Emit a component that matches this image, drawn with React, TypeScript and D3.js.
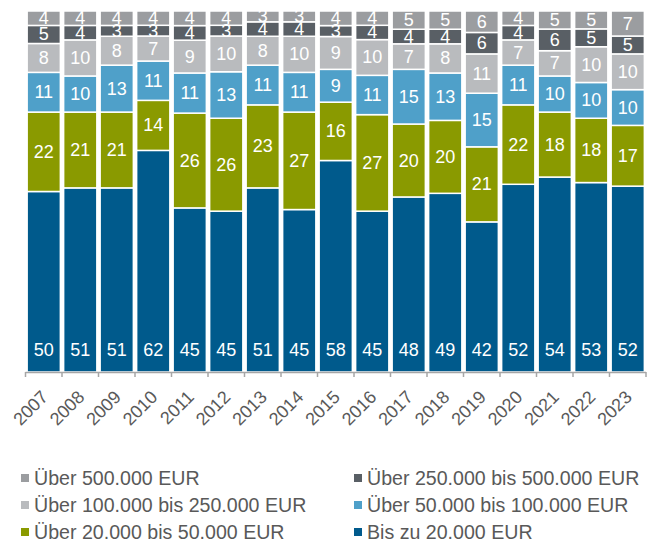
import React from 'react'
import * as d3 from 'd3'

const years = ['2007', '2008', '2009', '2010', '2011', '2012', '2013', '2014', '2015', '2016', '2017', '2018', '2019', '2020', '2021', '2022', '2023']

// bottom to top
const bis20 = [50, 51, 51, 62, 45, 45, 51, 45, 58, 45, 48, 49, 42, 52, 54, 53, 52]
const bis50 = [22, 21, 21, 14, 26, 26, 23, 27, 16, 27, 20, 20, 21, 22, 18, 18, 17]
const bis100 = [11, 10, 13, 11, 11, 13, 11, 11, 9, 11, 15, 13, 15, 11, 10, 10, 10]
const bis250 = [8, 10, 8, 7, 9, 10, 8, 10, 9, 10, 7, 8, 11, 7, 7, 10, 10]
const bis500 = [5, 4, 3, 3, 4, 3, 4, 4, 3, 4, 4, 4, 6, 4, 6, 5, 5]
const ueber500 = [4, 4, 4, 4, 4, 4, 3, 3, 4, 4, 5, 5, 6, 4, 5, 5, 7]

const seriesNames = [
  'Bis zu 20.000 EUR',
  'Über 20.000 bis 50.000 EUR',
  'Über 50.000 bis 100.000 EUR',
  'Über 100.000 bis 250.000 EUR',
  'Über 250.000 bis 500.000 EUR',
  'Über 500.000 EUR',
]
const seriesValues = [bis20, bis50, bis100, bis250, bis500, ueber500]
const colors = ['#005a8c', '#8a9a00', '#4fa0c9', '#b9bbbe', '#595f65', '#9b9da0']

// legend order as shown (two columns)
const legendOrder = [5, 4, 3, 2, 1, 0]

const W = 653
const H = 542
const font = 'Arial, "Liberation Sans", sans-serif'

export default function App() {
  const rows = years.map((y, i) => {
    const r: any = { year: y }
    seriesNames.forEach((s, k) => (r[s] = seriesValues[k][i]))
    return r
  })

  // shares are drawn as 100% stacks
  const stack = d3.stack<any>().keys(seriesNames).offset(d3.stackOffsetExpand)
  const stacked = stack(rows)

  const x0 = 25.5
  const x1 = 646
  const x = d3.scaleBand().domain(years).range([x0, x1]).paddingInner(0.09).paddingOuter(0.045)
  const y = d3.scaleLinear().domain([0, 1]).range([372, 11])
  const step = x.step()

  return (
    <svg width={W} height={H} style={{ position: 'absolute', left: 0, top: 0 }} fontFamily={font}>
      <rect width={W} height={H} fill="#fff" />
      {stacked.map((layer, k) => (
        <g key={layer.key}>
          {layer.map((d, i) => (
            <rect
              key={i}
              x={x(years[i])}
              y={y(d[1])}
              width={x.bandwidth()}
              height={y(d[0]) - y(d[1])}
              fill={colors[k]}
              stroke="#fff"
              strokeWidth={1.5}
            />
          ))}
        </g>
      ))}
      {stacked.map((layer, k) => (
        <g key={'l' + layer.key}>
          {layer.map((d, i) => {
            const cx = (x(years[i]) || 0) + x.bandwidth() / 2
            const cy = k === 0 ? y(d[0]) - 22 : (y(d[0]) + y(d[1])) / 2
            return (
              <text key={i} x={cx} y={cy} textAnchor="middle" dominantBaseline="central" fill="#fff" fontSize={18}>
                {seriesValues[k][i]}
              </text>
            )
          })}
        </g>
      ))}
      {/* x axis */}
      <line x1={x0} x2={x1} y1={372.5} y2={372.5} stroke="#a6a6a6" strokeWidth={1.5} />
      {d3.range(years.length + 1).map((i) => (
        <line key={i} x1={x0 + i * step} x2={x0 + i * step} y1={372} y2={377} stroke="#a6a6a6" strokeWidth={1.5} />
      ))}
      {years.map((yr) => {
        const cx = (x(yr) || 0) + x.bandwidth() / 2 + 1
        const cy = 394
        return (
          <text
            key={yr}
            x={cx}
            y={cy}
            textAnchor="end"
            dominantBaseline="central"
            fontSize={18}
            fill="#595959"
            transform={`rotate(-45, ${cx}, ${cy})`}
          >
            {yr}
          </text>
        )
      })}
      {/* legend */}
      {legendOrder.map((k, j) => {
        const col = j % 2
        const row = Math.floor(j / 2)
        const lx = col === 0 ? 21 : 354
        const ly = 478 + row * 27
        return (
          <g key={k}>
            <rect x={lx} y={ly - 4} width={8} height={8} fill={colors[k]} />
            <text x={lx + 13} y={ly} dominantBaseline="central" fontSize={19.6} fill="#595959">
              {seriesNames[k]}
            </text>
          </g>
        )
      })}
    </svg>
  )
}
